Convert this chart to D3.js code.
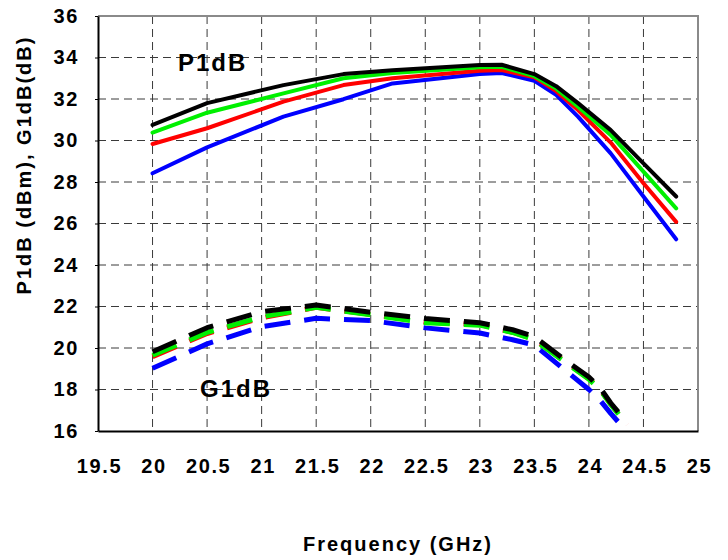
<!DOCTYPE html>
<html>
<head>
<meta charset="utf-8">
<script src="https://cdn.jsdelivr.net/npm/d3@7"></script>
<style>
  html, body { margin: 0; padding: 0; background: #fff; }
  svg { display: block; }
  text { font-family: "Liberation Sans", Arial, sans-serif; font-weight: bold; fill: #000; }
</style>
</head>
<body>
<svg id="chart" width="728" height="560"></svg>
<script>
// Frequency points (GHz) for the P1dB sweep and the G1dB sweep
const p1dbFreq = [20, 20.5, 21.2, 21.75, 22.2, 23.0, 23.2, 23.5, 23.7, 23.9, 24.2, 24.5, 24.8];
const g1dbFreq = [20, 20.5, 21.0, 21.5, 22.0, 22.5, 23.0, 23.3, 23.5, 23.8, 24.0, 24.1, 24.2, 24.35];

// P1dB (dBm), one curve per bias condition
const p1dbBlack = [30.75, 31.8, 32.67, 33.2, 33.38, 33.64, 33.65, 33.2, 32.62, 31.8, 30.5, 28.9, 27.3];
const p1dbGreen = [30.38, 31.34, 32.27, 33.0, 33.25, 33.53, 33.55, 33.1, 32.5, 31.63, 30.27, 28.5, 26.73];
const p1dbRed   = [29.83, 30.59, 31.87, 32.67, 33.0, 33.36, 33.4, 33.04, 32.38, 31.47, 29.9, 27.94, 26.08];
const p1dbBlue  = [28.42, 29.67, 31.15, 31.99, 32.75, 33.2, 33.25, 32.88, 32.2, 31.15, 29.38, 27.3, 25.24];

// G1dB (dB), one curve per bias condition
const g1dbBlack = [19.82, 20.98, 21.75, 22.07, 21.72, 21.42, 21.22, 20.88, 20.55, 19.35, 18.6, 18.1, 17.35, 16.4];
const g1dbGreen = [19.65, 20.75, 21.5, 21.96, 21.6, 21.22, 21.1, 20.75, 20.4, 19.25, 18.5, 18.0, 17.28, 16.3];
const g1dbRed   = [19.58, 20.7, 21.45, 21.96, 21.62, 21.25, 21.13, 20.76, 20.42, 19.28, 18.52, 18.02, 17.3, 16.3];
const g1dbBlue  = [19.02, 20.2, 21.03, 21.43, 21.32, 20.97, 20.72, 20.4, 20.14, 18.85, 18.0, 17.5, 16.85, 15.95];

const seriesColors = ["#0000ff", "#ff0000", "#00f000", "#000000"];

// Axis ticks
const xTicks = [19.5, 20, 20.5, 21, 21.5, 22, 22.5, 23, 23.5, 24, 24.5, 25];
const yTicks = [16, 18, 20, 22, 24, 26, 28, 30, 32, 34, 36];

const svg = d3.select("#chart");
const plotLeft = 98, plotRight = 698, plotTop = 16, plotBottom = 431;

const x = d3.scaleLinear().domain([19.5, 25]).range([plotLeft, plotRight]);
const y = d3.scaleLinear().domain([16, 36]).range([plotBottom, plotTop]);

// Dashed grid
const grid = svg.append("g");
grid.selectAll("line.h").data(yTicks.filter(v => v > 16 && v < 36)).join("line")
  .attr("class", "h")
  .attr("x1", plotLeft).attr("x2", plotRight)
  .attr("y1", d => y(d)).attr("y2", d => y(d))
  .attr("stroke", "#3a3a3a").attr("stroke-width", 1).attr("stroke-dasharray", "8,5");
grid.selectAll("line.v").data(xTicks.filter(v => v > 19.5 && v < 25)).join("line")
  .attr("class", "v")
  .attr("y1", plotTop).attr("y2", plotBottom)
  .attr("x1", d => x(d)).attr("x2", d => x(d))
  .attr("stroke", "#3a3a3a").attr("stroke-width", 1).attr("stroke-dasharray", "8,5");

// Plot frame: gray top/right edges
svg.append("line").attr("x1", plotLeft).attr("x2", plotRight + 1).attr("y1", plotTop).attr("y2", plotTop)
  .attr("stroke", "#8a8a8a").attr("stroke-width", 2);
svg.append("line").attr("x1", plotRight).attr("x2", plotRight).attr("y1", plotTop).attr("y2", plotBottom)
  .attr("stroke", "#8a8a8a").attr("stroke-width", 2);

// Axes
const yAxis = svg.append("g").attr("transform", `translate(${plotLeft},0)`)
  .call(d3.axisLeft(y).tickValues(yTicks).tickSize(3).tickSizeOuter(0).tickPadding(16).tickFormat(d3.format("d")));
const xAxis = svg.append("g").attr("transform", `translate(0,${plotBottom})`)
  .call(d3.axisBottom(x).tickValues(xTicks).tickSize(0).tickPadding(28).tickFormat(d => String(d)));
[yAxis, xAxis].forEach(a => {
  a.select(".domain").attr("stroke", "#000").attr("stroke-width", 2);
  a.selectAll(".tick line").attr("stroke", "#000");
  a.selectAll("text").attr("font-size", 20).attr("font-family", "Liberation Sans, Arial, sans-serif")
    .attr("font-weight", "bold").attr("fill", "#000").attr("letter-spacing", 1.6);
});
xAxis.selectAll("text").attr("dx", 1);

// Clip region for curves
svg.append("clipPath").attr("id", "plotClip").append("rect")
  .attr("x", plotLeft).attr("y", plotTop).attr("width", plotRight - plotLeft).attr("height", plotBottom - plotTop);

const line = d3.line().x(d => x(d[0])).y(d => y(d[1]));
const curves = svg.append("g").attr("clip-path", "url(#plotClip)");

[g1dbBlue, g1dbRed, g1dbGreen, g1dbBlack].forEach((vals, i) => {
  curves.append("path")
    .datum(g1dbFreq.map((f, j) => [f, vals[j]]))
    .attr("d", line).attr("fill", "none")
    .attr("stroke", seriesColors[i]).attr("stroke-width", 5)
    .attr("stroke-dasharray", "26,14").attr("stroke-linejoin", "round");
});

[p1dbBlue, p1dbRed, p1dbGreen, p1dbBlack].forEach((vals, i) => {
  curves.append("path")
    .datum(p1dbFreq.map((f, j) => [f, vals[j]]))
    .attr("d", line).attr("fill", "none")
    .attr("stroke", seriesColors[i]).attr("stroke-width", 4)
    .attr("stroke-linejoin", "round").attr("stroke-linecap", "round");
});

// Curve group labels
svg.append("text").attr("x", 178).attr("y", 71).attr("font-size", 24).attr("letter-spacing", 2).text("P1dB");
svg.append("text").attr("x", 200).attr("y", 397).attr("font-size", 24).attr("letter-spacing", 2).text("G1dB");

// Axis titles
svg.append("text").attr("x", 398).attr("y", 551).attr("text-anchor", "middle")
  .attr("font-size", 20).attr("letter-spacing", 2).text("Frequency (GHz)");
svg.append("text").attr("transform", "translate(31,165) rotate(-90)").attr("text-anchor", "middle")
  .attr("font-size", 20).attr("letter-spacing", 2).text("P1dB (dBm), G1dB(dB)");
</script>
</body>
</html>
